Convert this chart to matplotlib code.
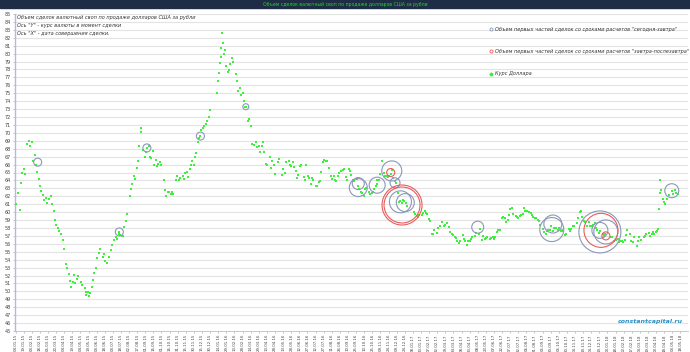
import matplotlib
matplotlib.use('Agg')
import matplotlib.pyplot as plt
import pandas as pd
import numpy as np

# --- data -------------------------------------------------------------
# курс доллара в момент сделки (дата, курс)
rate_dates = [
    '2015-01-05', '2015-01-08', '2015-01-12', '2015-01-14', '2015-01-16', '2015-01-20', '2015-01-22', '2015-01-26', '2015-01-28', '2015-01-30',
    '2015-02-03', '2015-02-05', '2015-02-09', '2015-02-11', '2015-02-13', '2015-02-16', '2015-02-18', '2015-02-20', '2015-02-24', '2015-02-26',
    '2015-03-02', '2015-03-04', '2015-03-06', '2015-03-10', '2015-03-12', '2015-03-16', '2015-03-18', '2015-03-20', '2015-03-24', '2015-03-26', '2015-03-30',
    '2015-04-01', '2015-04-03', '2015-04-07', '2015-04-09', '2015-04-13', '2015-04-15', '2015-04-17', '2015-04-20', '2015-04-22', '2015-04-24', '2015-04-28', '2015-04-30',
    '2015-05-05', '2015-05-07', '2015-05-12', '2015-05-14', '2015-05-15', '2015-05-18', '2015-05-20', '2015-05-22', '2015-05-25', '2015-05-27', '2015-05-29',
    '2015-06-02', '2015-06-04', '2015-06-08', '2015-06-10', '2015-06-15', '2015-06-17', '2015-06-19', '2015-06-23', '2015-06-25', '2015-06-29',
    '2015-07-02', '2015-07-06', '2015-07-08', '2015-07-10', '2015-07-14', '2015-07-15', '2015-07-16', '2015-07-20', '2015-07-22', '2015-07-24', '2015-07-28', '2015-07-30',
    '2015-08-03', '2015-08-05', '2015-08-07', '2015-08-11', '2015-08-13', '2015-08-17', '2015-08-19', '2015-08-21', '2015-08-24', '2015-08-25', '2015-08-27', '2015-08-31',
    '2015-09-02', '2015-09-04', '2015-09-07', '2015-09-09', '2015-09-11', '2015-09-15', '2015-09-17', '2015-09-21', '2015-09-23', '2015-09-25', '2015-09-29',
    '2015-10-01', '2015-10-05', '2015-10-07', '2015-10-09', '2015-10-13', '2015-10-15', '2015-10-19', '2015-10-21', '2015-10-23', '2015-10-27', '2015-10-29',
    '2015-11-02', '2015-11-05', '2015-11-09', '2015-11-11', '2015-11-13', '2015-11-17', '2015-11-19', '2015-11-23', '2015-11-25', '2015-11-27', '2015-11-30',
    '2015-12-02', '2015-12-04', '2015-12-08', '2015-12-10', '2015-12-12', '2015-12-14', '2015-12-16', '2015-12-18', '2015-12-22', '2015-12-24', '2015-12-28', '2015-12-30',
    '2016-01-11', '2016-01-13', '2016-01-15', '2016-01-18', '2016-01-19', '2016-01-20', '2016-01-21', '2016-01-22', '2016-01-25', '2016-01-27', '2016-01-29',
    '2016-02-01', '2016-02-03', '2016-02-05', '2016-02-09', '2016-02-11', '2016-02-15', '2016-02-17', '2016-02-19', '2016-02-24', '2016-02-26', '2016-02-29',
    '2016-03-02', '2016-03-04', '2016-03-05', '2016-03-09', '2016-03-11', '2016-03-15', '2016-03-17', '2016-03-21', '2016-03-23', '2016-03-25', '2016-03-29', '2016-03-31',
    '2016-04-04', '2016-04-06', '2016-04-08', '2016-04-12', '2016-04-14', '2016-04-18', '2016-04-20', '2016-04-22', '2016-04-26', '2016-04-28',
    '2016-05-04', '2016-05-06', '2016-05-11', '2016-05-13', '2016-05-17', '2016-05-19', '2016-05-23', '2016-05-25', '2016-05-27', '2016-05-31',
    '2016-06-02', '2016-06-06', '2016-06-08', '2016-06-10', '2016-06-14', '2016-06-16', '2016-06-20', '2016-06-22', '2016-06-24', '2016-06-28', '2016-06-30',
    '2016-07-04', '2016-07-06', '2016-07-08', '2016-07-12', '2016-07-14', '2016-07-18', '2016-07-20', '2016-07-22', '2016-07-26', '2016-07-28',
    '2016-08-01', '2016-08-03', '2016-08-05', '2016-08-09', '2016-08-11', '2016-08-15', '2016-08-17', '2016-08-19', '2016-08-23', '2016-08-25', '2016-08-29', '2016-08-31',
    '2016-09-02', '2016-09-06', '2016-09-08', '2016-09-12', '2016-09-14', '2016-09-16', '2016-09-20', '2016-09-22', '2016-09-26', '2016-09-28', '2016-09-30',
    '2016-10-04', '2016-10-06', '2016-10-10', '2016-10-12', '2016-10-14', '2016-10-18', '2016-10-20', '2016-10-24', '2016-10-26', '2016-10-28', '2016-10-31',
    '2016-11-02', '2016-11-03', '2016-11-07', '2016-11-09', '2016-11-11', '2016-11-15', '2016-11-17', '2016-11-21', '2016-11-23', '2016-11-25', '2016-11-28', '2016-11-30',
    '2016-12-02', '2016-12-06', '2016-12-08', '2016-12-12', '2016-12-14', '2016-12-16', '2016-12-19', '2016-12-21', '2016-12-23', '2016-12-27', '2016-12-29',
    '2017-01-10', '2017-01-12', '2017-01-16', '2017-01-18', '2017-01-20', '2017-01-24', '2017-01-26', '2017-01-30',
    '2017-02-01', '2017-02-03', '2017-02-07', '2017-02-09', '2017-02-13', '2017-02-15', '2017-02-17', '2017-02-21', '2017-02-24', '2017-02-28',
    '2017-03-02', '2017-03-06', '2017-03-09', '2017-03-13', '2017-03-15', '2017-03-17', '2017-03-21', '2017-03-23', '2017-03-27', '2017-03-29', '2017-03-31',
    '2017-04-04', '2017-04-06', '2017-04-10', '2017-04-12', '2017-04-14', '2017-04-18', '2017-04-20', '2017-04-24', '2017-04-26', '2017-04-28',
    '2017-05-03', '2017-05-05', '2017-05-10', '2017-05-12', '2017-05-16', '2017-05-18', '2017-05-22', '2017-05-24', '2017-05-26', '2017-05-30',
    '2017-06-01', '2017-06-05', '2017-06-07', '2017-06-09', '2017-06-13', '2017-06-15', '2017-06-19', '2017-06-21', '2017-06-23', '2017-06-27', '2017-06-29',
    '2017-07-03', '2017-07-05', '2017-07-07', '2017-07-11', '2017-07-13', '2017-07-17', '2017-07-19', '2017-07-21', '2017-07-25', '2017-07-27', '2017-07-31',
    '2017-08-02', '2017-08-04', '2017-08-08', '2017-08-10', '2017-08-14', '2017-08-16', '2017-08-18', '2017-08-22', '2017-08-24', '2017-08-28', '2017-08-30',
    '2017-09-01', '2017-09-05', '2017-09-07', '2017-09-11', '2017-09-13', '2017-09-15', '2017-09-19', '2017-09-21', '2017-09-25', '2017-09-27', '2017-09-29',
    '2017-10-03', '2017-10-05', '2017-10-09', '2017-10-11', '2017-10-13', '2017-10-17', '2017-10-19', '2017-10-23', '2017-10-25', '2017-10-27', '2017-10-31',
    '2017-11-02', '2017-11-07', '2017-11-09', '2017-11-13', '2017-11-15', '2017-11-17', '2017-11-21', '2017-11-23', '2017-11-27', '2017-11-29',
    '2017-12-01', '2017-12-05', '2017-12-07', '2017-12-11', '2017-12-13', '2017-12-15', '2017-12-19', '2017-12-21', '2017-12-25', '2017-12-27', '2017-12-29',
    '2018-01-10', '2018-01-12', '2018-01-16', '2018-01-18', '2018-01-22', '2018-01-24', '2018-01-26', '2018-01-30',
    '2018-02-01', '2018-02-05', '2018-02-07', '2018-02-09', '2018-02-13', '2018-02-15', '2018-02-19', '2018-02-21', '2018-02-26', '2018-02-28',
    '2018-03-02', '2018-03-06', '2018-03-12', '2018-03-14', '2018-03-16', '2018-03-20', '2018-03-22', '2018-03-26', '2018-03-28', '2018-03-30',
    '2018-04-02', '2018-04-04', '2018-04-06', '2018-04-09', '2018-04-10', '2018-04-11', '2018-04-12', '2018-04-16', '2018-04-18', '2018-04-20', '2018-04-24', '2018-04-26',
    '2018-05-02', '2018-05-04', '2018-05-08', '2018-05-10', '2018-05-14',
]
rate_values = [
    61.0, 62.4, 60.3, 63.7, 64.9, 65.5, 64.8, 68.6, 69.0, 68.4,
    68.9, 66.4, 67.2, 66.0, 65.1, 64.2, 63.3, 62.7, 62.1, 61.5,
    61.8, 61.2, 61.6, 62.0, 61.0, 60.2, 59.0, 58.4, 58.0, 57.6, 57.2,
    56.5, 55.3, 53.5, 53.0, 52.2, 51.3, 50.6, 51.2, 52.1, 51.0, 51.5, 52.0,
    51.2, 50.8, 50.4, 49.9, 49.6, 49.9, 49.4, 49.8, 50.6, 51.4, 52.3,
    53.0, 54.2, 54.8, 55.3, 54.4, 54.7, 53.8, 53.6, 54.3, 55.2,
    55.8, 56.5, 56.9, 56.6, 57.3, 57.5, 57.1, 57.0, 57.0, 58.1, 58.9, 59.8,
    62.0, 62.9, 63.6, 64.6, 64.2, 65.6, 66.4, 68.4, 70.1, 70.6, 67.8, 67.0,
    67.6, 68.1, 68.3, 67.0, 66.8, 67.7, 65.9, 66.6, 65.8, 66.1, 66.3,
    66.0, 64.1, 62.8, 62.0, 62.6, 62.6, 62.3, 62.5, 62.3, 64.1, 64.5,
    64.0, 64.3, 64.5, 64.2, 65.0, 65.1, 64.4, 65.4, 66.0, 66.4, 66.0,
    67.0, 67.5, 68.9, 69.4, 69.6, 70.3, 70.6, 70.9, 71.1, 71.5, 72.0, 72.9,
    75.0, 76.5, 77.5, 78.8, 79.6, 80.7, 82.6, 81.3, 79.9, 80.5, 78.5,
    77.7, 77.9, 78.7, 79.5, 79.0, 77.4, 76.6, 75.3, 75.6, 74.8, 75.0,
    74.0, 73.3, 73.3, 71.5, 71.8, 70.9, 68.6, 68.5, 68.8, 68.2, 68.3, 67.6,
    68.4, 68.8, 67.6, 66.1, 66.0, 66.9, 65.6, 66.5, 65.9, 64.8,
    66.3, 66.7, 64.7, 65.5, 65.0, 66.3, 66.5, 66.0, 65.8, 66.3,
    65.7, 65.2, 64.3, 64.7, 65.8, 66.0, 64.4, 64.1, 65.9, 64.6, 64.3,
    63.6, 64.3, 64.0, 63.3, 63.3, 63.8, 63.9, 65.1, 66.3, 66.6,
    66.4, 66.4, 65.6, 64.6, 64.2, 64.5, 64.0, 63.9, 64.6, 64.9, 65.2, 65.3,
    65.4, 64.4, 64.0, 65.5, 65.2, 64.7, 64.1, 63.9, 64.2, 63.3, 62.9,
    62.6, 62.4, 62.0, 62.9, 63.1, 62.6, 62.3, 62.4, 62.5, 62.9, 63.3,
    64.0, 63.5, 64.0, 64.8, 66.5, 65.0, 64.5, 64.6, 64.4, 64.5, 64.8, 65.3,
    64.3, 63.9, 63.7, 62.4, 61.3, 61.4, 61.2, 61.5, 61.4, 61.2, 60.8,
    60.0, 59.8, 59.5, 59.4, 59.7, 59.6, 59.9, 60.2,
    59.9, 59.8, 59.1, 58.9, 57.3, 57.2, 57.8, 57.4, 58.0, 58.3,
    58.7, 58.3, 58.4, 58.6, 58.1, 57.5, 57.3, 57.1, 56.8, 56.7, 56.4,
    56.1, 56.3, 57.1, 56.6, 56.3, 55.8, 56.3, 56.4, 56.6, 56.8,
    57.0, 57.4, 57.3, 57.9, 56.5, 57.0, 56.6, 56.7, 56.8, 56.6,
    56.7, 56.9, 56.6, 56.8, 57.5, 57.7, 57.8, 59.2, 59.4, 59.3, 58.8,
    59.0, 59.6, 60.4, 60.5, 59.8, 59.5, 59.4, 59.3, 59.5, 59.6, 59.8,
    60.5, 60.2, 60.1, 60.0, 59.9, 59.6, 59.4, 59.3, 59.2, 59.0, 58.9,
    58.4, 57.9, 57.5, 57.3, 57.6, 57.7, 57.8, 58.2, 57.6, 58.0, 58.0,
    57.8, 58.0, 57.6, 57.7, 57.6, 57.1, 57.2, 57.9, 57.6, 57.9, 58.2,
    58.3, 58.6, 59.3, 60.0, 60.2, 59.4, 58.9, 58.7, 58.3, 58.7,
    58.3, 58.2, 58.4, 58.6, 58.0, 57.8, 57.4, 57.6, 57.2, 57.0, 57.3,
    56.8, 56.9, 56.3, 56.5, 56.6, 56.2, 56.3, 56.4,
    56.2, 56.5, 57.1, 57.7, 57.2, 56.3, 56.2, 56.8, 55.7, 56.3,
    56.9, 56.5, 56.8, 57.0, 57.3, 57.4, 57.0, 57.3, 57.5, 57.3,
    57.5, 57.6, 57.9, 60.4, 62.4, 64.1, 62.8, 61.6, 61.3, 61.0, 61.7, 62.2,
    62.7, 62.3, 62.8, 62.4, 62.3,
]

# объем первых частей сделок "сегодня-завтра", млн долл.
tod_dates = ['2015-02-14', '2015-07-15', '2015-09-04', '2015-12-12', '2016-03-05',
             '2016-09-29', '2016-09-29', '2016-11-03', '2016-11-30', '2016-12-06',
             '2016-12-16', '2016-12-25', '2017-05-08', '2017-09-22', '2017-09-24',
             '2017-12-20', '2017-12-20', '2017-12-31', '2018-05-02']
tod_rates = [66.3, 57.5, 68.1, 69.6, 73.3,
             63.1, 63.6, 63.4, 65.2, 63.7,
             61.3, 61.2, 58.1, 57.8, 58.5,
             57.5, 57.7, 57.5, 62.7]
tod_volumes = [160, 160, 160, 160, 90,
               810, 360, 640, 1000, 250,
               1210, 810, 360, 1440, 810,
               4410, 640, 1440, 490]

# объем первых частей сделок "завтра-послезавтра", млн долл.
tom_dates = ['2016-11-28', '2016-12-19', '2016-12-19', '2017-12-22', '2017-12-31']
tom_rates = [65.0, 60.9, 60.9, 57.7, 57.0]
tom_volumes = [160, 4000, 3240, 2890, 160]

# --- plot -------------------------------------------------------------
fig = plt.figure(figsize=(6.9, 3.52), dpi=100)
ax = fig.add_axes([15 / 690, 1 - 331 / 352, 673 / 690, 317 / 352])

px = 0.72  # points per pixel
scale = (2 * px) ** 2 / 10  # volume -> marker area

ax.scatter(pd.to_datetime(rate_dates), rate_values, s=2.5, marker='s',
           color='#3cf03c', linewidths=0, zorder=3)
ax.scatter(pd.to_datetime(tod_dates), tod_rates, s=np.array(tod_volumes) * scale,
           facecolors='none', edgecolors='#8a97b8', linewidths=0.8, zorder=4)
ax.scatter(pd.to_datetime(tom_dates), tom_rates, s=np.array(tom_volumes) * scale,
           facecolors='none', edgecolors='#ec5b5b', linewidths=0.8, zorder=4)

ax.set_ylim(45, 85)
ax.set_yticks(range(45, 86))
ax.set_xlim(pd.Timestamp('2015-01-03'), pd.Timestamp('2018-06-01'))
xt = pd.date_range('2015-01-04', '2018-05-31', freq='15D')
ax.set_xticks(xt)
ax.set_xticklabels([d.strftime('%d.%m.%y') for d in xt], rotation=90, fontsize=2.8, color='#444444')
ax.tick_params(axis='y', labelsize=3.5, labelcolor='#444444', length=1.5, width=0.4, color='#999999', pad=1.5)
ax.tick_params(axis='x', length=1.2, width=0.4, color='#999999', pad=1)
ax.grid(axis='y', color='#e3e3e3', linewidth=0.8)
ax.set_axisbelow(True)
for s in ['top', 'right']:
    ax.spines[s].set_visible(False)
ax.spines['left'].set_color('#a9bfdc')
ax.spines['left'].set_linewidth(1.0)
ax.spines['bottom'].set_color('#c0c0c0')
ax.spines['bottom'].set_linewidth(0.6)

# banner
fig.patches.append(plt.Rectangle((0, 1 - 8 / 352), 1, 8 / 352, transform=fig.transFigure,
                                 color='#1e2c45', zorder=0))
fig.text(0.5, 1 - 4 / 352, 'Объем сделок валютный своп по продаже долларов США за рубли',
         ha='center', va='center', fontsize=3.3, color='#22d822')

# notes
notes = ['Объем сделок валютный своп по продаже долларов США за рубли',
         'Ось "Y" - курс валюты в момент сделки',
         'Ось "X" - дата совершения сделки.']
for i, t in enumerate(notes):
    fig.text(17 / 690, 1 - (18 + 8 * i) / 352, t, ha='left', va='center',
             fontsize=3.6, style='italic', color='#333333')

# legend
leg = [('#8a97b8', 'none', 'Объем первых частей сделок со сроками расчетов "сегодня-завтра"', 29),
       ('#ec5b5b', 'none', 'Объем первых частей сделок со сроками расчетов "завтра-послезавтра"', 51),
       ('#39ef39', '#39ef39', 'Курс Доллара', 74)]
for ec, fc, t, y in leg:
    fig.lines.append(plt.Line2D([491 / 690], [1 - y / 352], transform=fig.transFigure,
                                marker='o', markersize=2.2, markerfacecolor=fc,
                                markeredgecolor=ec, markeredgewidth=0.6, linestyle='none'))
    fig.text(495 / 690, 1 - y / 352, t, ha='left', va='center', fontsize=3.6,
             style='italic', color='#333333')

fig.text(650 / 690, 1 - 321 / 352, 'constantcapital.ru', ha='center', va='center',
         fontsize=4.5, style='italic', weight='bold', color='#2b8fc0')

fig.savefig('out.png', dpi=100)
